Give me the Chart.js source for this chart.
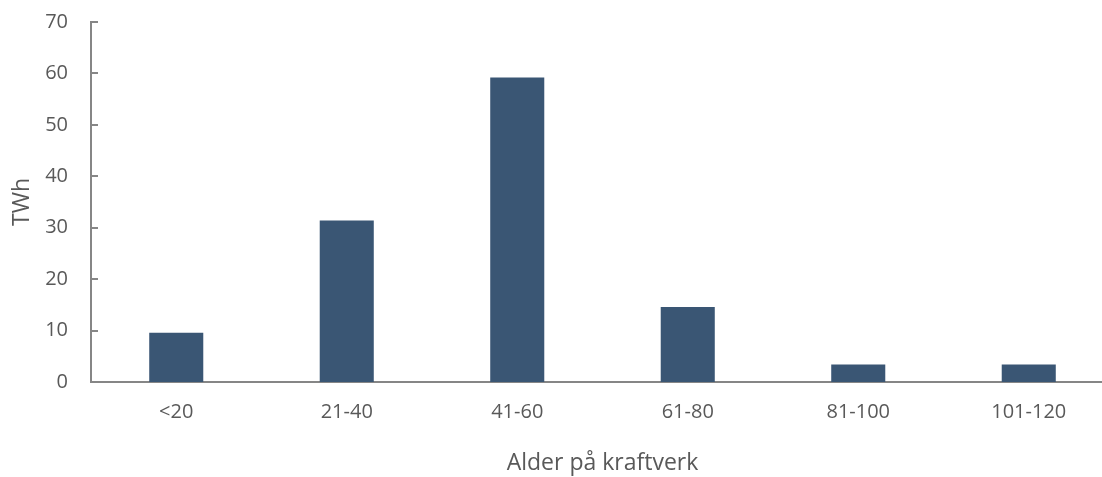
<!DOCTYPE html>
<html>
<head>
<meta charset="utf-8">
<script src="https://cdn.jsdelivr.net/npm/chart.js@4/dist/chart.umd.min.js"></script>
<style>
  html, body { margin: 0; padding: 0; background: #fff; overflow: hidden; }
  #wrap { width: 1115px; height: 477px; }
</style>
</head>
<body>
<div id="wrap"><canvas id="chart"></canvas></div>
<script>
// Data
const categories = ["<20", "21-40", "41-60", "61-80", "81-100", "101-120"];
const twh = [9.6, 31.4, 59.2, 14.6, 3.4, 3.4];
const yTicks = [0, 10, 20, 30, 40, 50, 60, 70];

const axisColor = "#868686";
const textColor = "#595959";
const tickFont = { family: "'Open Sans', sans-serif", size: 20 };
const titleFont = { family: "'Open Sans', sans-serif", size: 23 };

// inward tick marks on the y axis
const innerTicks = {
  id: "innerTicks",
  afterDraw(chart) {
    const y = chart.scales.y;
    const ctx = chart.ctx;
    ctx.save();
    ctx.strokeStyle = axisColor;
    ctx.lineWidth = 2;
    yTicks.forEach(v => {
      const py = Math.round(y.getPixelForValue(v));
      ctx.beginPath();
      ctx.moveTo(y.right, py);
      ctx.lineTo(y.right + 7, py);
      ctx.stroke();
    });
    ctx.restore();
  }
};

const ctx = document.getElementById("chart").getContext("2d");
new Chart(ctx, {
  type: "bar",
  data: {
    labels: categories,
    datasets: [{
      data: twh,
      backgroundColor: "#3a5674",
      categoryPercentage: 1,
      barPercentage: 0.317
    }]
  },
  options: {
    responsive: true,
    maintainAspectRatio: false,
    animation: false,
    layout: { padding: { top: 22, left: 0, right: 1, bottom: 0 } },
    plugins: { legend: { display: false }, tooltip: { enabled: false } },
    scales: {
      x: {
        afterFit(s) { s.height = 95; },
        grid: { display: false, drawTicks: false },
        border: { color: axisColor, width: 2 },
        ticks: { color: textColor, font: tickFont, padding: 18 },
        title: {
          display: true,
          text: "Alder på kraftverk",
          color: textColor,
          font: titleFont,
          padding: { top: 10, bottom: 0 }
        }
      },
      y: {
        min: 0,
        max: 70,
        afterFit(s) { s.width = 91; s.paddingTop = 0; s.paddingBottom = 0; },
        afterBuildTicks(s) { s.ticks = yTicks.map(v => ({ value: v })); },
        grid: { display: false, drawTicks: false },
        border: { color: axisColor, width: 2 },
        ticks: { color: textColor, font: tickFont, padding: 23 },
        title: {
          display: true,
          text: "TWh",
          color: textColor,
          font: titleFont,
          padding: { top: 9, bottom: 0 }
        }
      }
    }
  },
  plugins: [innerTicks]
});
</script>
</body>
</html>
